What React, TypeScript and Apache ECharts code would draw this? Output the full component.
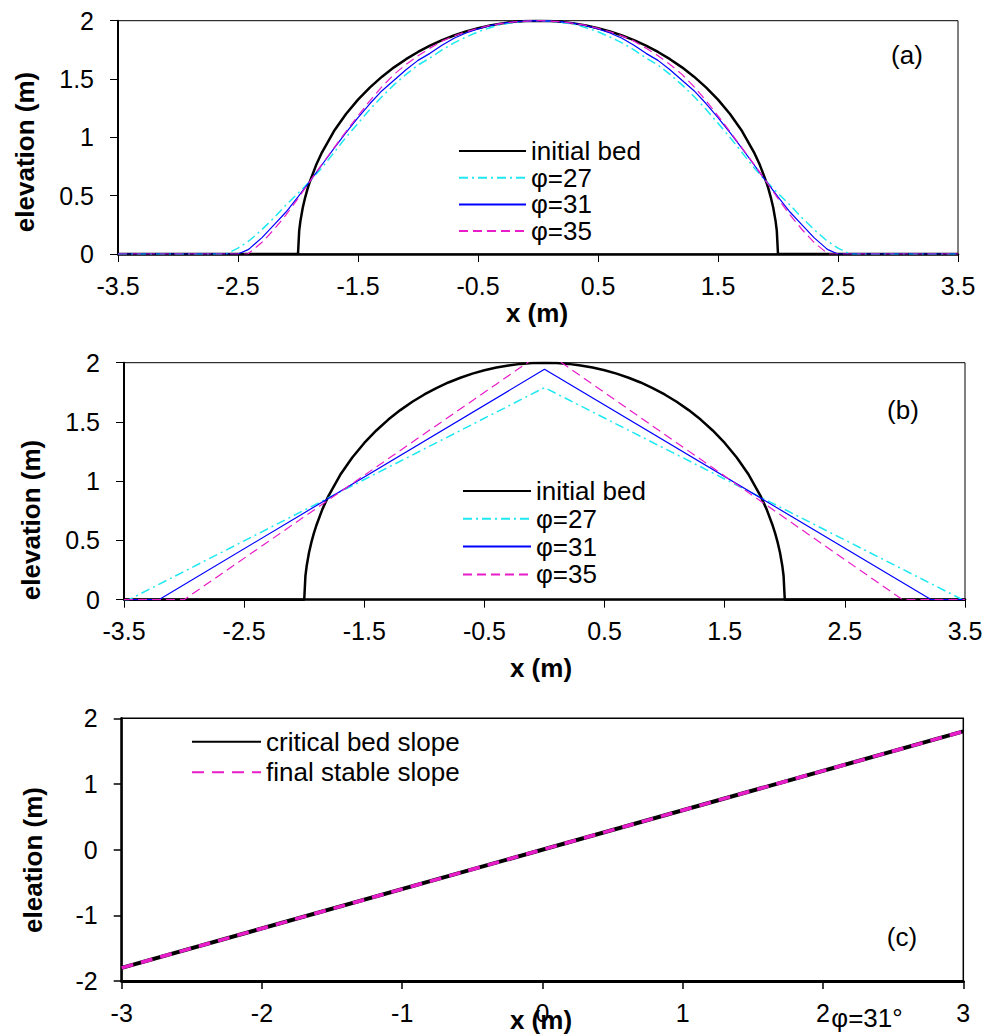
import React, { useEffect, useRef } from "react";
import * as echarts from "echarts";

const FONT = '"Liberation Sans", Arial, Helvetica, sans-serif';

// ---------- tick labels ----------
const ticksAB = [-3.5, -2.5, -1.5, -0.5, 0.5, 1.5, 2.5, 3.5];

// ---------- panel (a)/(b): initial bed ----------
const bedX = [-3.5, -2, -1.99, -1.98, -1.96, -1.94, -1.92, -1.9, -1.85, -1.8, -1.7, -1.6, -1.5, -1.4, -1.3, -1.2, -1.1, -1, -0.9, -0.8, -0.7, -0.6, -0.5, -0.4, -0.3, -0.2, -0.1, 0,
  0.1, 0.2, 0.3, 0.4, 0.5, 0.6, 0.7, 0.8, 0.9, 1, 1.1, 1.2, 1.3, 1.4, 1.5, 1.6, 1.7, 1.8, 1.85, 1.9, 1.92, 1.94, 1.96, 1.98, 1.99, 2, 3.5];
const bedY = [0, 0, 0.2, 0.282, 0.398, 0.486, 0.56, 0.624, 0.76, 0.872, 1.054, 1.2, 1.323, 1.428, 1.52, 1.6, 1.67, 1.732, 1.786, 1.833, 1.873, 1.908, 1.936, 1.96, 1.977, 1.99, 1.997, 2,
  1.997, 1.99, 1.977, 1.96, 1.936, 1.908, 1.873, 1.833, 1.786, 1.732, 1.67, 1.6, 1.52, 1.428, 1.323, 1.2, 1.054, 0.872, 0.76, 0.624, 0.56, 0.486, 0.398, 0.282, 0.2, 0, 0];

// ---------- panel (a): smoothed profiles ----------
const profX = [-3.5, -2.6, -2.5, -2.42, -2.4, -2.3, -2.2, -2.1, -2, -1.9, -1.8, -1.7, -1.6, -1.5, -1.4, -1.3, -1.2, -1.1, -1, -0.9, -0.8, -0.7, -0.6, -0.5, -0.4, -0.3, -0.2, -0.1, 0,
  0.1, 0.2, 0.3, 0.4, 0.5, 0.6, 0.7, 0.8, 0.9, 1, 1.1, 1.2, 1.3, 1.4, 1.5, 1.6, 1.7, 1.8, 1.9, 2, 2.1, 2.2, 2.3, 2.4, 2.42, 2.5, 2.6, 3.5];
const prof27 = [0, 0, 0.05, 0.105, 0.12, 0.21, 0.31, 0.42, 0.52, 0.625, 0.74, 0.87, 1.0, 1.12, 1.24, 1.35, 1.45, 1.54, 1.62, 1.68, 1.75, 1.81, 1.86, 1.905, 1.94, 1.97, 1.985, 1.996, 2,
  1.996, 1.985, 1.97, 1.94, 1.905, 1.86, 1.81, 1.75, 1.68, 1.62, 1.54, 1.45, 1.35, 1.24, 1.12, 1.0, 0.87, 0.74, 0.625, 0.52, 0.42, 0.31, 0.21, 0.12, 0.105, 0.05, 0, 0];
const prof31 = [0, 0, 0, 0.035, 0.05, 0.14, 0.25, 0.36, 0.49, 0.625, 0.765, 0.905, 1.04, 1.17, 1.29, 1.4, 1.49, 1.58, 1.66, 1.72, 1.79, 1.85, 1.895, 1.93, 1.958, 1.977, 1.99, 1.997, 2,
  1.997, 1.99, 1.977, 1.958, 1.93, 1.895, 1.85, 1.79, 1.72, 1.66, 1.58, 1.49, 1.4, 1.29, 1.17, 1.04, 0.905, 0.765, 0.625, 0.49, 0.36, 0.25, 0.14, 0.05, 0.035, 0, 0, 0];
const prof35 = [0, 0, 0, 0, 0.015, 0.1, 0.21, 0.335, 0.475, 0.625, 0.77, 0.91, 1.05, 1.185, 1.315, 1.435, 1.54, 1.625, 1.7, 1.765, 1.825, 1.87, 1.905, 1.935, 1.96, 1.977, 1.99, 1.997, 2,
  1.997, 1.99, 1.977, 1.96, 1.935, 1.905, 1.87, 1.825, 1.765, 1.7, 1.625, 1.54, 1.435, 1.315, 1.185, 1.05, 0.91, 0.77, 0.625, 0.475, 0.335, 0.21, 0.1, 0.015, 0, 0, 0, 0];

// ---------- panel (b): triangular profiles ----------
const tri27X = [-3.5, -3.46, 0, 3.48, 3.5];
const tri27Y = [0, 0, 1.79, 0, 0];
const tri31X = [-3.5, -3.21, 0, 3.22, 3.5];
const tri31Y = [0, 0, 1.944, 0, 0];
const tri35X = [-3.5, -3.0, 0, 2.98, 3.5];
const tri35Y = [0, 0, 2.1, 0, 0];

// ---------- panel (c): slopes ----------
const slopeX = [-3, 3];
const criticalY = [-1.8, 1.8];
const finalY = [-1.8, 1.8];

const namesAB = ["initial bed", "φ=27", "φ=31", "φ=35"];
const namesC = ["critical bed slope", "final stable slope"];

const zip = (xs: number[], ys: number[]) => xs.map((x, i) => [x, ys[i]]);

const C_BLACK = "#000000";
const C_CYAN = "#1EE8F0";
const C_BLUE = "#0000FF";
const C_MAG = "#E81CC8";

function lineSeries(name: string, idx: number, data: number[][], color: string, width: number, type: any, z: number) {
  return {
    name,
    type: "line",
    xAxisIndex: idx,
    yAxisIndex: idx,
    data,
    symbol: "none",
    showSymbol: false,
    clip: true,
    z,
    lineStyle: { color, width, type },
    itemStyle: { color },
    emphasis: { disabled: true },
  };
}

function xAxisAB(idx: number) {
  return {
    gridIndex: idx,
    type: "value",
    min: -3.5,
    max: 3.5,
    interval: 0.5,
    axisLine: { show: true, onZero: false, lineStyle: { color: "#000", width: 2.5 } },
    axisTick: { show: true, length: 8, customValues: ticksAB, lineStyle: { color: "#000", width: 1 } },
    axisLabel: { customValues: ticksAB, margin: 19, fontSize: 25, color: "#000", fontFamily: FONT },
    splitLine: { show: false },
  };
}

function yAxisAB(idx: number) {
  return {
    gridIndex: idx,
    type: "value",
    min: 0,
    max: 2,
    interval: 0.5,
    axisLine: { show: true, onZero: false, lineStyle: { color: "#000", width: 2 } },
    axisTick: { show: true, length: 8, lineStyle: { color: "#000", width: 1 } },
    axisLabel: { margin: 24, fontSize: 25, color: "#000", fontFamily: FONT },
    splitLine: { show: false },
  };
}

function legendAt(names: string[], left: number, top: number, itemWidth: number, gap: number) {
  return {
    data: names,
    orient: "vertical",
    left,
    top,
    padding: 0,
    itemWidth,
    itemHeight: 14,
    itemGap: gap,
    selectedMode: false,
    itemStyle: { opacity: 0, borderWidth: 0 },
    textStyle: { fontSize: 26, lineHeight: 26, color: "#000", fontFamily: FONT },
  };
}

function txt(text: string, x: number, y: number, size: number, bold = false, rot = 0) {
  return {
    type: "text",
    x,
    y,
    rotation: rot,
    style: {
      text,
      fill: "#000",
      fontSize: size,
      fontWeight: bold ? "bold" : "normal",
      fontFamily: FONT,
      align: "center",
      verticalAlign: "middle",
    },
    z: 100,
  };
}

export default function App() {
  const ref = useRef<HTMLDivElement>(null);
  useEffect(() => {
    if (!ref.current) return;
    const chart = echarts.init(ref.current, undefined, { renderer: "svg" });
    const option: any = {
      animation: false,
      backgroundColor: "#ffffff",
      textStyle: { fontFamily: FONT },
      grid: [
        { left: 118, top: 20.7, width: 840, height: 233.3, show: true, borderColor: "#000", borderWidth: 1, backgroundColor: "transparent" },
        { left: 124, top: 362.7, width: 841, height: 237, show: true, borderColor: "#000", borderWidth: 1, backgroundColor: "transparent" },
        { left: 121.7, top: 718.3, width: 841.6, height: 262.7, show: true, borderColor: "#000", borderWidth: 1.5, backgroundColor: "transparent" },
      ],
      xAxis: [
        xAxisAB(0),
        xAxisAB(1),
        {
          gridIndex: 2,
          type: "value",
          min: -3,
          max: 3,
          interval: 1,
          axisLine: { show: true, onZero: false, lineStyle: { color: "#000", width: 3 } },
          axisTick: { show: true, length: 8, lineStyle: { color: "#000", width: 1.5 } },
          axisLabel: { margin: 19, fontSize: 25, color: "#000", fontFamily: FONT },
          splitLine: { show: false },
        },
      ],
      yAxis: [
        yAxisAB(0),
        yAxisAB(1),
        {
          gridIndex: 2,
          type: "value",
          min: -2,
          max: 2,
          interval: 1,
          axisLine: { show: true, onZero: false, lineStyle: { color: "#000", width: 2.5 } },
          axisTick: { show: true, length: 8, lineStyle: { color: "#000", width: 1.5 } },
          axisLabel: { margin: 24, fontSize: 25, color: "#000", fontFamily: FONT },
          splitLine: { show: false },
        },
      ],
      legend: [
        legendAt(namesAB, 458, 138, 67, 0.7),
        legendAt(namesAB, 462, 478, 68, 1.8),
        legendAt(namesC, 191, 728.7, 69, 4.6),
      ],
      series: [
        lineSeries(namesAB[0], 0, zip(bedX, bedY), C_BLACK, 2.5, "solid", 2),
        lineSeries(namesAB[1], 0, zip(profX, prof27), C_CYAN, 1.5, [9, 4, 2, 4], 3),
        lineSeries(namesAB[2], 0, zip(profX, prof31), C_BLUE, 1.2, "solid", 4),
        lineSeries(namesAB[3], 0, zip(profX, prof35), C_MAG, 1.2, [9, 5], 5),

        lineSeries(namesAB[0], 1, zip(bedX, bedY), C_BLACK, 2.5, "solid", 2),
        lineSeries(namesAB[1], 1, zip(tri27X, tri27Y), C_CYAN, 1.5, [9, 4, 2, 4], 3),
        lineSeries(namesAB[2], 1, zip(tri31X, tri31Y), C_BLUE, 1.2, "solid", 4),
        lineSeries(namesAB[3], 1, zip(tri35X, tri35Y), C_MAG, 1.2, [9, 5], 5),

        lineSeries(namesC[0], 2, zip(slopeX, criticalY), C_BLACK, 4, "solid", 2),
        lineSeries(namesC[1], 2, zip(slopeX, finalY), C_MAG, 3.5, [12, 8], 3),
      ],
      graphic: [
        txt("(a)", 907, 55, 26),
        txt("(b)", 903, 410, 26),
        txt("(c)", 902, 937, 26),
        txt("elevation (m)", 25, 152, 26, true, Math.PI / 2),
        txt("elevation (m)", 31, 520, 26, true, Math.PI / 2),
        txt("eleation (m)", 33, 860, 26, true, Math.PI / 2),
        txt("x (m)", 537, 313, 26, true),
        txt("x (m)", 541, 668, 26, true),
        txt("x (m)", 541, 1020, 26, true),
        txt("φ=31°", 867, 1018, 26),
      ],
    };
    chart.setOption(option);
    return () => chart.dispose();
  }, []);
  return (
    <div
      ref={ref}
      style={{ position: "absolute", left: 0, top: 0, width: 989, height: 1036, background: "#fff" }}
    />
  );
}
